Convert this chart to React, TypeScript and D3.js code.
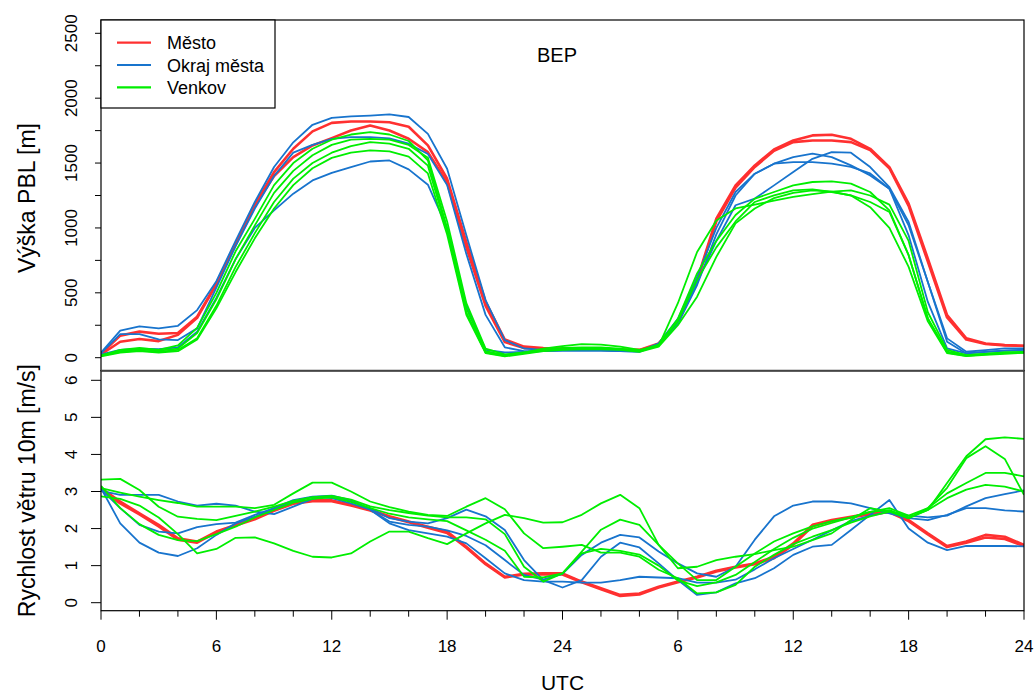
import React from "react";
import * as d3 from "d3";

// ---------- data ----------
const HOURS = d3.range(0, 49);
const X_TICK_HOURS = [0, 6, 12, 18, 24, 30, 36, 42, 48];
const X_TICK_LABELS = ["0", "6", "12", "18", "24", "6", "12", "18", "24"];
const X_MINOR_HOURS = d3.range(0, 49, 2);
const PBL_TICKS = [0, 250, 500, 750, 1000, 1250, 1500, 1750, 2000, 2250, 2500];
const PBL_LABELS = [0, 500, 1000, 1500, 2000, 2500];
const WIND_TICKS = [0, 1, 2, 3, 4, 5, 6];

const LEGEND_NAMES = ["Město", "Okraj města", "Venkov"];
const TITLE = "BEP";

const pblMesto1 = [30,170,201,185,190,316,570,880,1180,1430,1610,1744,1810,1820,1820,1815,1780,1636,1379,890,430,140,85,75,70,70,65,60,60,110,280,600,1072,1328,1482,1605,1674,1713,1718,1687,1610,1469,1187,764,328,149,110,98,92];
const pblMesto2 = [25,123,144,128,176,307,565,870,1170,1400,1546,1636,1692,1751,1790,1751,1687,1584,1350,850,400,120,75,70,65,65,62,58,58,100,270,590,1050,1310,1470,1595,1661,1674,1674,1661,1600,1460,1170,740,310,140,105,95,90];
const pblOkraj1 = [40,208,241,226,246,367,590,900,1200,1470,1660,1795,1848,1860,1866,1875,1855,1725,1456,943,444,136,71,60,58,60,60,55,50,110,300,620,1000,1277,1418,1495,1546,1572,1546,1482,1405,1302,1020,584,149,46,59,72,72];
const pblOkraj2 = [35,181,181,141,136,226,540,860,1150,1400,1580,1640,1687,1700,1700,1690,1649,1570,1330,800,330,80,50,50,55,55,55,50,48,100,260,560,950,1250,1418,1495,1507,1507,1495,1470,1420,1302,943,430,72,33,45,55,60];
const pblOkraj3 = [25,60,70,65,80,200,460,760,1000,1135,1264,1366,1425,1469,1512,1520,1451,1333,1000,400,60,40,45,50,55,55,55,50,45,100,280,580,900,1175,1226,1328,1431,1533,1584,1580,1469,1315,1046,584,123,33,45,55,60];
const pblVenkov1 = [15,60,75,60,95,230,500,820,1070,1330,1500,1610,1680,1720,1738,1720,1670,1520,1000,380,50,20,40,70,90,105,100,85,60,90,420,815,1057,1150,1180,1210,1240,1260,1280,1290,1250,1180,900,350,60,20,30,40,45];
const pblVenkov2 = [20,50,65,55,70,190,450,760,1020,1270,1440,1560,1640,1680,1687,1680,1640,1540,1050,420,70,25,40,60,75,80,80,70,55,100,300,650,900,1100,1226,1277,1328,1354,1359,1341,1277,1136,790,303,46,20,30,40,45];
const pblVenkov3 = [15,45,55,45,60,150,400,700,960,1200,1380,1500,1580,1630,1661,1650,1610,1480,980,350,40,15,35,55,65,70,70,65,50,95,280,600,850,1050,1200,1251,1290,1297,1277,1251,1200,1123,790,303,40,15,25,35,40];
const pblVenkov4 = [10,40,50,40,50,140,380,660,920,1150,1330,1460,1540,1580,1597,1590,1550,1420,950,330,35,10,30,50,60,65,65,60,45,85,250,470,777,1035,1150,1230,1270,1290,1280,1250,1160,1000,700,280,35,12,22,30,38];

const windMesto1 = [3.09,2.73,2.41,2.10,1.74,1.65,1.92,2.10,2.28,2.51,2.69,2.76,2.76,2.64,2.51,2.33,2.19,2.05,1.92,1.51,1.06,0.70,0.78,0.79,0.79,0.57,0.39,0.21,0.25,0.43,0.57,0.70,0.86,0.97,1.06,1.24,1.60,2.10,2.23,2.32,2.41,2.46,2.23,1.87,1.53,1.65,1.83,1.78,1.56];
const windMesto2 = [3.05,2.68,2.38,2.06,1.70,1.62,1.90,2.08,2.25,2.48,2.67,2.74,2.74,2.62,2.49,2.31,2.17,2.02,1.88,1.48,1.04,0.68,0.76,0.77,0.76,0.55,0.36,0.18,0.22,0.41,0.55,0.68,0.84,0.95,1.04,1.20,1.56,2.06,2.20,2.30,2.39,2.44,2.20,1.84,1.50,1.62,1.76,1.72,1.53];
const windOkraj1 = [3.09,2.14,1.62,1.35,1.26,1.47,1.83,2.14,2.32,2.55,2.77,2.86,2.89,2.77,2.51,2.14,1.96,1.87,1.78,1.60,1.20,0.79,0.61,0.57,0.57,0.54,0.54,0.61,0.70,0.68,0.66,0.54,0.54,0.62,0.90,1.20,1.45,1.70,1.95,2.20,2.35,2.45,2.35,2.30,2.35,2.60,2.82,2.93,3.03];
const windOkraj2 = [3.02,2.91,2.91,2.91,2.73,2.62,2.67,2.62,2.46,2.39,2.59,2.80,2.88,2.73,2.55,2.28,2.19,2.14,2.28,2.51,2.33,1.96,1.15,0.61,0.41,0.61,1.24,1.62,1.49,1.06,0.61,0.21,0.28,0.52,0.66,0.93,1.29,1.51,1.56,1.96,2.37,2.77,2.00,1.62,1.42,1.53,1.53,1.53,1.52];
const windOkraj3 = [3.06,2.55,2.10,1.92,1.87,2.04,2.12,2.16,2.37,2.55,2.73,2.85,2.82,2.68,2.51,2.19,2.10,2.05,1.95,1.80,1.55,1.15,0.75,0.62,0.78,1.29,1.62,1.83,1.76,1.38,1.06,0.79,0.70,0.97,1.70,2.33,2.62,2.73,2.73,2.68,2.55,2.41,2.28,2.23,2.37,2.55,2.55,2.49,2.46];
const windVenkov1 = [3.32,3.34,3.04,2.59,2.32,2.26,2.23,2.34,2.46,2.59,2.75,2.85,2.88,2.78,2.60,2.50,2.42,2.35,2.30,2.30,2.25,1.85,0.97,0.57,0.79,1.38,1.97,2.24,2.10,1.56,1.06,0.61,0.61,0.97,1.33,1.65,1.87,2.06,2.20,2.30,2.45,2.55,2.35,2.55,2.95,3.23,3.50,3.50,3.41];
const windVenkov2 = [3.09,2.97,2.86,2.77,2.69,2.59,2.59,2.59,2.55,2.64,2.95,3.24,3.24,3.00,2.73,2.58,2.46,2.37,2.34,2.59,2.82,2.52,1.87,1.47,1.51,1.56,1.35,1.35,1.24,0.89,0.66,0.25,0.28,0.48,0.97,1.29,1.58,1.78,1.96,2.16,2.33,2.46,2.28,2.50,3.23,3.95,4.41,4.46,4.42];
const windVenkov3 = [2.87,2.80,2.62,2.30,1.85,1.33,1.45,1.75,1.76,1.60,1.40,1.24,1.22,1.33,1.65,1.92,1.92,1.74,1.58,1.87,2.14,2.37,2.28,2.16,2.17,2.37,2.68,2.91,2.55,1.56,0.93,0.97,1.15,1.24,1.31,1.42,1.51,1.69,1.87,2.23,2.55,2.46,2.28,2.55,3.10,3.90,4.22,3.88,2.91];
const windVenkov4 = [3.15,2.55,2.12,1.83,1.69,1.66,1.85,2.05,2.30,2.50,2.70,2.80,2.84,2.72,2.55,2.40,2.30,2.25,2.20,1.95,1.70,1.40,0.70,0.68,0.79,1.33,1.45,1.40,1.30,1.00,0.60,0.45,0.55,0.75,1.10,1.45,1.75,2.00,2.15,2.30,2.45,2.50,2.30,2.50,2.82,3.05,3.18,3.13,3.00];

// ---------- styling ----------
const RED = "#FF3030";
const BLUE = "#1874CD";
const GREEN = "#00EE00";
const FONT = "'Liberation Sans', Arial, Helvetica, sans-serif";

const PBL_SERIES = [
  { values: pblMesto1, color: RED, w: 2.6 },
  { values: pblMesto2, color: RED, w: 2.6 },
  { values: pblOkraj1, color: BLUE, w: 1.8 },
  { values: pblOkraj2, color: BLUE, w: 1.8 },
  { values: pblOkraj3, color: BLUE, w: 1.8 },
  { values: pblVenkov1, color: GREEN, w: 1.8 },
  { values: pblVenkov2, color: GREEN, w: 1.8 },
  { values: pblVenkov3, color: GREEN, w: 1.8 },
  { values: pblVenkov4, color: GREEN, w: 1.8 },
];
const WIND_SERIES = [
  { values: windMesto1, color: RED, w: 2.6 },
  { values: windMesto2, color: RED, w: 2.6 },
  { values: windOkraj1, color: BLUE, w: 1.8 },
  { values: windOkraj2, color: BLUE, w: 1.8 },
  { values: windOkraj3, color: BLUE, w: 1.8 },
  { values: windVenkov1, color: GREEN, w: 1.8 },
  { values: windVenkov2, color: GREEN, w: 1.8 },
  { values: windVenkov3, color: GREEN, w: 1.8 },
  { values: windVenkov4, color: GREEN, w: 1.8 },
];
const LEGEND_COLORS = [RED, BLUE, GREEN];

const W = 1035;
const H = 697;
const X0 = 101;
const X1 = 1024;
const TOP = 20;
const MID = 370.7;
const BOT = 610.7;

export default function App() {
  const x = d3.scaleLinear().domain([0, 48]).range([X0, X1]);
  const yP = d3.scaleLinear().domain([0, 2500]).range([357.7, 33.3]);
  const yW = d3.scaleLinear().domain([0, 6]).range([602.7, 380.3]);

  const lineP = d3
    .line<number>()
    .x((_, i) => x(HOURS[i]))
    .y((d) => yP(d));
  const lineW = d3
    .line<number>()
    .x((_, i) => x(HOURS[i]))
    .y((d) => yW(d));

  return (
    <svg
      width={W}
      height={H}
      style={{ position: "absolute", left: 0, top: 0, background: "#fff" }}
      fontFamily={FONT}
    >
      <defs>
        <clipPath id="clipTop">
          <rect x={X0} y={TOP} width={X1 - X0} height={MID - TOP} />
        </clipPath>
        <clipPath id="clipBot">
          <rect x={X0} y={MID} width={X1 - X0} height={BOT - MID} />
        </clipPath>
      </defs>
      <rect x={0} y={0} width={W} height={H} fill="#fff" />

      {/* top panel lines */}
      <g clipPath="url(#clipTop)" fill="none" strokeLinejoin="round">
        {PBL_SERIES.map((s, i) => (
          <path key={i} d={lineP(s.values) || ""} stroke={s.color} strokeWidth={s.w} />
        ))}
      </g>
      {/* bottom panel lines */}
      <g clipPath="url(#clipBot)" fill="none" strokeLinejoin="round">
        {WIND_SERIES.map((s, i) => (
          <path key={i} d={lineW(s.values) || ""} stroke={s.color} strokeWidth={s.w} />
        ))}
      </g>

      {/* panel boxes */}
      <rect x={X0} y={TOP} width={X1 - X0} height={MID - TOP} fill="none" stroke="#000" strokeWidth={1.2} />
      <rect x={X0} y={MID} width={X1 - X0} height={BOT - MID} fill="none" stroke="#000" strokeWidth={1.2} />
      <line x1={X0} x2={X1} y1={MID} y2={MID} stroke="#444" strokeWidth={1.8} />

      {/* top y axis */}
      {PBL_TICKS.map((t) => (
        <line key={t} x1={X0 - 6} x2={X0} y1={yP(t)} y2={yP(t)} stroke="#000" strokeWidth={1} />
      ))}
      {PBL_LABELS.map((t) => (
        <text
          key={t}
          transform={`translate(${77},${yP(t)}) rotate(-90)`}
          textAnchor="middle"
          fontSize={17}
          fill="#000"
        >
          {t}
        </text>
      ))}

      {/* bottom y axis */}
      {WIND_TICKS.map((t) => (
        <line key={t} x1={X0 - 10} x2={X0} y1={yW(t)} y2={yW(t)} stroke="#000" strokeWidth={1} />
      ))}
      {WIND_TICKS.map((t) => (
        <text
          key={t}
          transform={`translate(${77},${yW(t)}) rotate(-90)`}
          textAnchor="middle"
          fontSize={17}
          fill="#000"
        >
          {t}
        </text>
      ))}

      {/* x axis */}
      {X_MINOR_HOURS.map((h) => (
        <line
          key={h}
          x1={x(h)}
          x2={x(h)}
          y1={BOT}
          y2={BOT + (h % 6 === 0 ? 9 : 6)}
          stroke="#000"
          strokeWidth={1}
        />
      ))}
      {X_TICK_HOURS.map((h, i) => (
        <text key={h} x={x(h)} y={652} textAnchor="middle" fontSize={17} fill="#000">
          {X_TICK_LABELS[i]}
        </text>
      ))}

      {/* axis titles */}
      <text
        transform={`translate(35,${198}) rotate(-90)`}
        textAnchor="middle"
        fontSize={23}
        fill="#000"
      >
        Výška PBL [m]
      </text>
      <text
        transform={`translate(35,${(MID + BOT) / 2}) rotate(-90)`}
        textAnchor="middle"
        fontSize={23}
        fill="#000"
      >
        Rychlost větru 10m [m/s]
      </text>
      <text x={(X0 + X1) / 2} y={690} textAnchor="middle" fontSize={21} fill="#000">
        UTC
      </text>

      {/* title */}
      <text x={557} y={62} textAnchor="middle" fontSize={20} fill="#000">
        {TITLE}
      </text>

      {/* legend */}
      <rect x={X0} y={TOP} width={174} height={88} fill="#fff" stroke="#000" strokeWidth={1.2} />
      {LEGEND_NAMES.map((name, i) => (
        <g key={name}>
          <line
            x1={117}
            x2={151}
            y1={42.7 + i * 22.3}
            y2={42.7 + i * 22.3}
            stroke={LEGEND_COLORS[i]}
            strokeWidth={2.2}
          />
          <text x={167} y={42.7 + i * 22.3 + 6.5} fontSize={18} fill="#000">
            {name}
          </text>
        </g>
      ))}
    </svg>
  );
}
